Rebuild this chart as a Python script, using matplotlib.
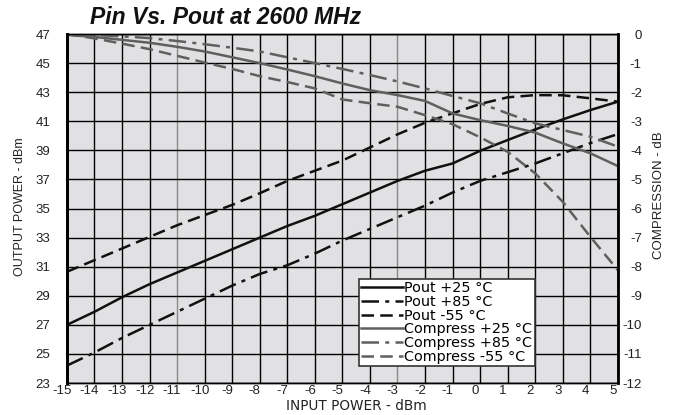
import matplotlib
matplotlib.use("Agg")
import matplotlib.pyplot as plt
import matplotlib.transforms as mtransforms

# input power, dBm
pin = [-15, -14, -13, -12, -11, -10, -9, -8, -7, -6, -5,
       -4, -3, -2, -1, 0, 1, 2, 3, 4, 5]

# output power, dBm (left axis)
pout_25 = [27.0, 27.9, 28.9, 29.8, 30.6, 31.4, 32.2, 33.0, 33.8, 34.5, 35.3,
           36.1, 36.9, 37.6, 38.1, 38.97, 39.71, 40.44, 41.13, 41.77, 42.35]
pout_85 = [24.2, 25.1, 26.1, 27.0, 27.9, 28.8, 29.7, 30.5, 31.1, 31.9, 32.8,
           33.6, 34.4, 35.2, 36.1, 36.9, 37.5, 38.1, 38.8, 39.5, 40.12]
pout_m55 = [30.65, 31.45, 32.25, 33.05, 33.85, 34.55, 35.25, 36.05, 36.9, 37.6, 38.3,
            39.2, 40.1, 40.9, 41.55, 42.19, 42.65, 42.8, 42.79, 42.58, 42.35]

# compression, dB (right axis)
comp_25 = [-0.03, -0.1, -0.2, -0.3, -0.44, -0.6, -0.8, -1.0, -1.22, -1.45, -1.7,
           -1.93, -2.1, -2.3, -2.73, -2.96, -3.16, -3.39, -3.76, -4.1, -4.54]
comp_85 = [0.0, -0.03, -0.08, -0.14, -0.24, -0.35, -0.47, -0.6, -0.8, -1.0, -1.2,
           -1.41, -1.63, -1.87, -2.13, -2.38, -2.73, -3.07, -3.3, -3.53, -3.87]
comp_m55 = [0.0, -0.15, -0.33, -0.52, -0.75, -0.98, -1.2, -1.45, -1.65, -1.87, -2.25,
            -2.38, -2.5, -2.79, -3.1, -3.55, -4.05, -4.79, -5.77, -6.97, -8.12]

left_ticks = list(range(23, 48, 2))
right_ticks = list(range(-12, 1))

plt.rcParams['font.family'] = ['Liberation Sans', 'DejaVu Sans']
plt.rcParams['axes.unicode_minus'] = False

fig = plt.figure(figsize=(6.76, 4.15), dpi=100)
ax = fig.add_axes([0.099, 0.077, 0.815, 0.841])
ax.set_facecolor('#e1e1e3')

black = '#111111'
gray = '#5f5f5f'
dashdot = (0, (7, 2.5, 1.6, 2.5))
dashed = (0, (5, 2.5))

l1, = ax.plot(pin, pout_25, color=black, lw=1.8, ls='-', label='Pout +25 \u00b0C')
l2, = ax.plot(pin, pout_85, color=black, lw=1.8, ls=dashdot, label='Pout +85 \u00b0C')
l3, = ax.plot(pin, pout_m55, color=black, lw=1.8, ls=dashed, label='Pout -55 \u00b0C')

ax.set_xlim(-15, 5)
ax.set_ylim(23, 47)
ax.set_xticks(pin)
ax.set_yticks(left_ticks)
ax.grid(True, color='black', lw=1.0)
ax.set_axisbelow(True)
for x, gl in zip(pin, ax.xaxis.get_gridlines()):
    if x in (-11, -3):
        gl.set_color('#8a8a8a')

ax2 = ax.twinx()
l4, = ax2.plot(pin, comp_25, color=gray, lw=1.8, ls='-', label='Compress +25 \u00b0C')
l5, = ax2.plot(pin, comp_85, color=gray, lw=1.8, ls=dashdot, label='Compress +85 \u00b0C')
l6, = ax2.plot(pin, comp_m55, color=gray, lw=1.8, ls=dashed, label='Compress -55 \u00b0C')
ax2.set_ylim(-12, 0)
ax2.set_yticks(right_ticks)

for a in (ax, ax2):
    for s in a.spines.values():
        s.set_linewidth(1.0)
        s.set_color('black')
ax.spines['left'].set_linewidth(2.0)
ax2.spines['right'].set_linewidth(2.0)
ax2.spines['left'].set_linewidth(2.0)

ax.tick_params(axis='both', length=0, labelsize=9.5, colors='#222222')
ax.tick_params(axis='y', pad=12)
ax.tick_params(axis='x', pad=1.5)
ax2.tick_params(axis='y', length=0, labelsize=9.5, colors='#222222', pad=0)

xoff = mtransforms.ScaledTranslation(-5 / 100, 0, fig.dpi_scale_trans)
for lab in ax.get_xticklabels():
    lab.set_transform(lab.get_transform() + xoff)
roff = mtransforms.ScaledTranslation(24 / 100, 0, fig.dpi_scale_trans)
for lab in ax2.get_yticklabels():
    lab.set_horizontalalignment('right')
    lab.set_transform(lab.get_transform() + roff)

fig.text(90 / 676, 1 - 18 / 415, 'Pin Vs. Pout at 2600 MHz', fontsize=16.5,
         fontweight='bold', fontstyle='italic', ha='left', va='center', color='#111111')
fig.text(356 / 676, 1 - 406 / 415, 'INPUT POWER - dBm', fontsize=9.8,
         ha='center', va='center', color='#222222', family='DejaVu Sans')
fig.text(20 / 676, 1 - 207 / 415, 'OUTPUT POWER - dBm', fontsize=9, rotation=90,
         ha='center', va='center', color='#222222')
fig.text(659 / 676, 1 - 195 / 415, 'COMPRESSION - dB', fontsize=9.5, rotation=90,
         ha='center', va='center', color='#222222')

leg = ax2.legend(handles=[l1, l2, l3, l4, l5, l6], loc='lower left',
                 bbox_to_anchor=(0.53, 0.049), frameon=True,
                 prop={'family': 'DejaVu Sans', 'size': 10.4},
                 fancybox=False, framealpha=1, edgecolor='#333333',
                 handlelength=2.9, handletextpad=0.1, labelspacing=-0.02,
                 borderpad=0.15, borderaxespad=0)
leg.get_frame().set_linewidth(1.2)

fig.savefig('out.png', dpi=100)
